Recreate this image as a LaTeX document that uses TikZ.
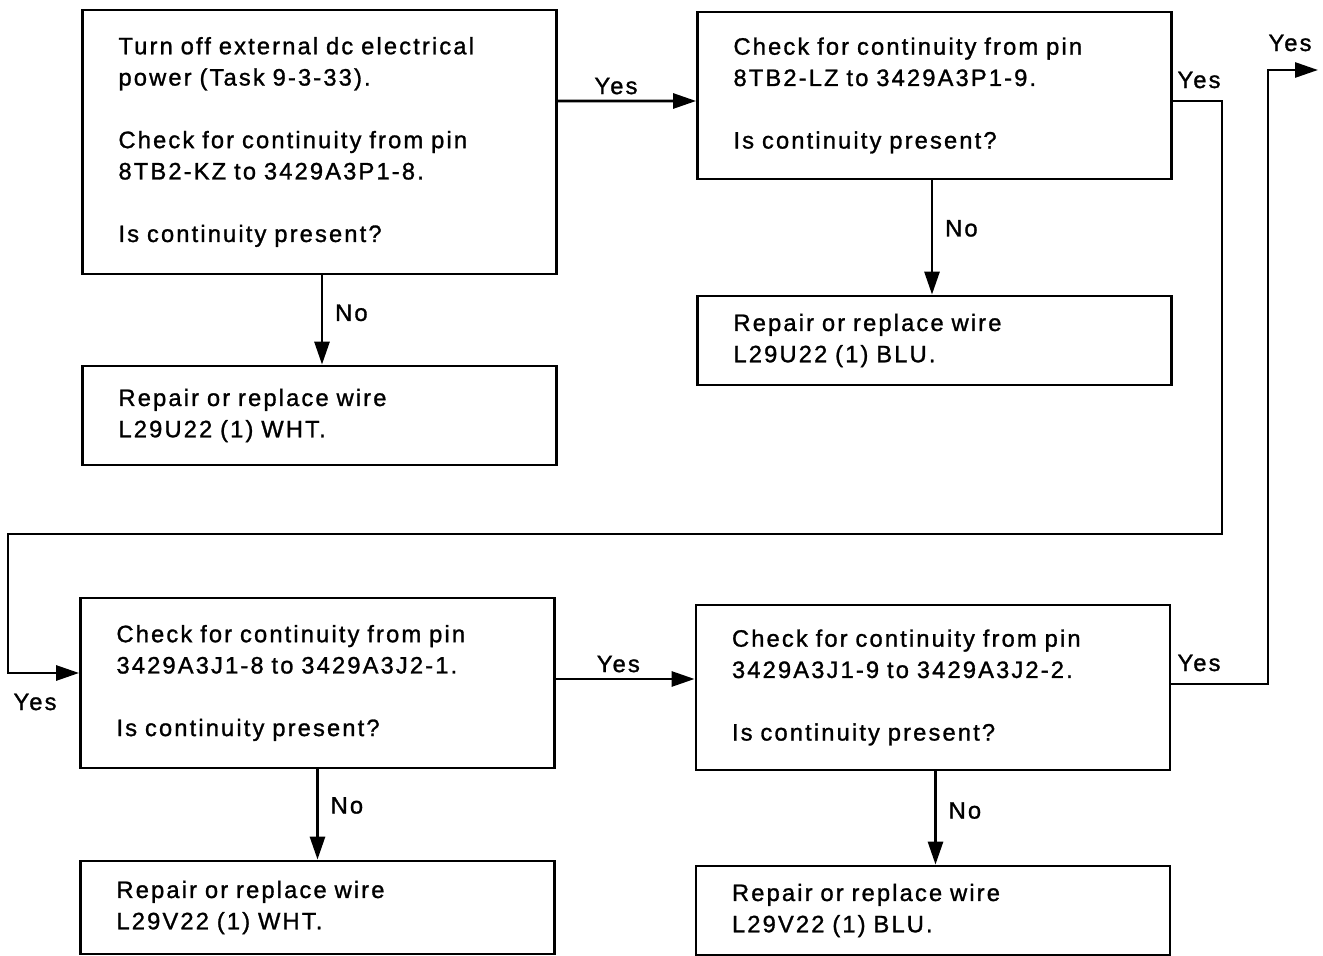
\documentclass[tikz,border=0pt]{standalone}
\usepackage{fontspec}
\setmainfont{Liberation Sans}[LetterSpace=9,FakeBold=1.2]
\usetikzlibrary{arrows.meta,calc}

\begin{document}
\begin{tikzpicture}[every node/.style={font=\fontsize{13.5}{17.8}\selectfont},
  pinbox/.style={draw,line width=1.6pt,align=left,text width=8.04cm,inner xsep=0.72cm,inner ysep=0pt,minimum height=#1},
  flow/.style={line width=1.6pt,-{Triangle[length=0.46cm,width=0.3cm]}},
  answer/.style={inner sep=1pt}]
  \useasboundingbox (0,0) rectangle (26.46,-19.12);
  % checks and repairs
  \node[pinbox=5.28cm] (power) at (6.39,-2.84) {Turn off external dc electrical\\ power (Task 9-3-33).\\[0.626cm] Check for continuity from pin\\ 8TB2-KZ to 3429A3P1-8.\\[0.626cm] Is continuity present?};
  \node[pinbox=3.34cm] (lzpin) at (18.69,-1.91) {Check for continuity from pin\\ 8TB2-LZ to 3429A3P1-9.\\[0.626cm] Is continuity present?};
  \node[pinbox=1.98cm] (wirekz) at (6.39,-8.31) {Repair or replace wire\\ L29U22 (1) WHT.};
  \node[pinbox=1.78cm] (wirelz) at (18.69,-6.81) {Repair or replace wire\\ L29U22 (1) BLU.};
  \node[pinbox=3.4cm] (jeight) at (6.35,-13.66) {Check for continuity from pin\\ 3429A3J1-8 to 3429A3J2-1.\\[0.626cm] Is continuity present?};
  \node[pinbox=3.3cm] (jnine) at (18.66,-13.75) {Check for continuity from pin\\ 3429A3J1-9 to 3429A3J2-2.\\[0.626cm] Is continuity present?};
  \node[pinbox=1.86cm] (wirej8) at (6.35,-18.15) {Repair or replace wire\\ L29V22 (1) WHT.};
  \node[pinbox=1.78cm] (wirej9) at (18.66,-18.21) {Repair or replace wire\\ L29V22 (1) BLU.};
  % connectors
  \draw[flow] ($(power.east)+(0,0.82)$) -- node[answer,above=2pt,pos=0.42] (yes1) {Yes} ($(lzpin.west)+(0,-0.11)$);
  \draw[flow] ([xshift=0.05cm]power.south) -- node[answer,right=0.2cm,pos=0.42] (no1) {No} ([xshift=0.05cm]wirekz.north);
  \draw[flow] ([xshift=-0.05cm]lzpin.south) -- node[answer,right=0.2cm,pos=0.42] (no2) {No} ([xshift=-0.05cm]wirelz.north);
  \coordinate (loopR) at (24.44,-10.68);
  \coordinate (loopL) at (0.16,-10.68);
  \draw[flow] ($(lzpin.east)+(0,-0.11)$) -| (loopR) -- (loopL) |- ($(jeight.west)+(0,0.2)$);
  \node[answer] (yes2) at (23.98,-1.6) {Yes};
  \node[answer] (yes3) at (0.7,-14.04) {Yes};
  \draw[flow] ($(jeight.east)+(0,0.08)$) -- node[answer,above=2pt,pos=0.45] (yes4) {Yes} ($(jnine.west)+(0,0.17)$);
  \draw[flow] (jeight.south) -- node[answer,right=0.2cm,pos=0.4] (no3) {No} (wirej8.north);
  \draw[flow] ([xshift=0.05cm]jnine.south) -- node[answer,right=0.2cm,pos=0.42] (no4) {No} ([xshift=0.05cm]wirej9.north);
  \coordinate (exitT) at (25.36,-1.4);
  \coordinate (exitR) at (26.36,-1.4);
  \draw[flow] ($(jnine.east)+(0,0.07)$) -| (exitT) -- (exitR);
  \node[answer] (yes5) at (23.98,-13.26) {Yes};
  \node[answer] (yes6) at (25.8,-0.86) {Yes};
\end{tikzpicture}
\end{document}
